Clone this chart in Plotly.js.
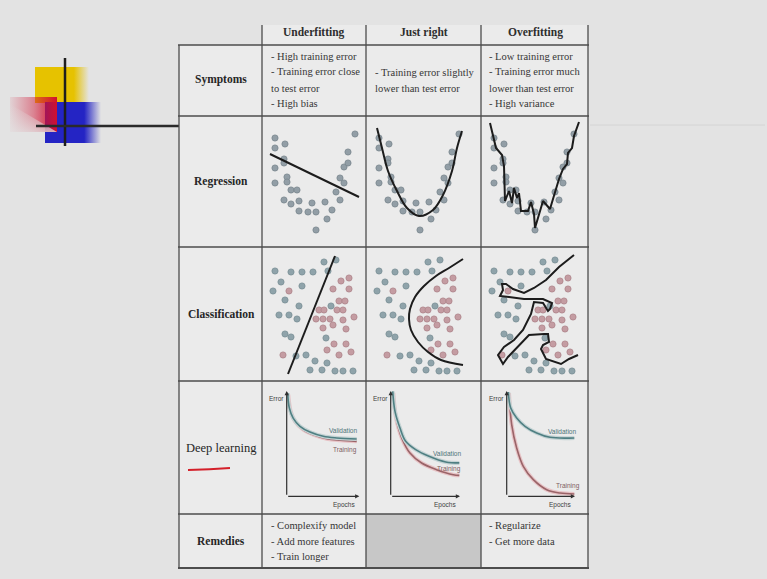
<!DOCTYPE html>
<html><head><meta charset="utf-8">
<script src="https://cdn.plot.ly/plotly-3.0.1.min.js"></script>
<style>html,body{margin:0;padding:0;background:#e3e3e3;overflow:hidden}#chart{width:767px;height:579px}</style>
</head><body><div id="chart"></div>
<script>
// ---------------- DATA ----------------
const colHeaders = ['Underfitting', 'Just right', 'Overfitting'];
const rowHeaders = ['Symptoms', 'Regression', 'Classification', 'Deep learning', 'Remedies'];
const symptomsUnder = ['- High training error', '- Training error close', 'to test error', '- High bias'];
const symptomsRight = ['- Training error slightly', 'lower than test error'];
const symptomsOver = ['- Low training error', '- Training error much', 'lower than test error', '- High variance'];
const remediesUnder = ['- Complexify model', '- Add more features', '- Train longer'];
const remediesOver = ['- Regularize', '- Get more data'];

// regression sample points (same sample in every column)
const regX = [13,13,23,13,22,22,13,25,25,29,35,22,29,37,37,46,50,54,54,63,65,70,78,74,78,82,82,86,86,93];
const regY = [22,32,28,52,43,47,67,61,66,74,74,84,88,85,95,96,87,96,114,86,103,94,84,76,62,67,51,47,36,18];
// regression fits
const regUnderX = [8, 97];
const regUnderY = [38, 81];
const regRightX = [11,16,22,31,41,53,67,77,86,91,96];
const regRightY = [12,32,55,75,92,100,94,79,55,32,15];
const regOverX = [9,15,21,23,24,28,31,33,36,38,40,47,50,53,54,62,69,78,82,86,87,91,93,98];
const regOverY = [7,32,39,50,85,75,87,72,82,77,95,95,86,98,112,85,93,63,53,48,37,32,20,6];

// classification sample points
const blueX = [62,74,13,29,40,51,66,19,11,40,23,37,69,17,27,35,23,29,64,34,44,53,65,48,60,73,81,91];
const blueY = [15,13,24,25,25,25,24,35,44,39,53,59,59,68,68,72,87,90,91,109,108,114,116,123,123,124,124,124];
const redX = [87,79,71,87,27,77,83,57,62,75,81,54,61,68,81,92,71,61,84,72,84,65,89,77,21];
const redY = [31,34,42,42,44,54,54,63,63,63,63,72,72,72,73,70,78,81,82,97,97,103,105,108,108];
// classification boundaries
const clsUnderX = [73, 26];
const clsUnderY = [9, 127];
const clsRightX = [97,83,70,58,49,44,43,45,52,62,75,97];
const clsRightY = [12,21,29,39,50,62,72,83,95,105,113,118];
const clsOverX = [93,78,65,53,43,32,25,21,22,19,28,43,62,71,69,67,62,53,50,42,33,23,17,22,27,37,48,63,67,68,62,60,65,80,88,97];
const clsOverY = [8,20,33,41,46,42,37,37,43,49,50,52,52,56,62,64,56,55,67,83,93,100,108,117,110,100,88,87,87,95,98,102,112,117,112,108];

// deep learning error curves (epochs 0-100, error 0-100)
const dlUnderValX = [1.4,3.6,9.1,18.3,32.1,50.4,68.9,96.4];
const dlUnderValY = [98,84,74,66.5,61,57,55.4,54.4];
const dlUnderTrX = [2.2,5.5,11.4,22.9,36.6,55.1,73.4,96.4];
const dlUnderTrY = [96.5,80.7,71.2,63.2,58.5,54.7,53.2,52.2];
const dlRightValX = [2.9,6.2,13.4,21.6,36.1,55.3,79.4,99];
const dlRightValY = [99.7,80.7,64.9,52.2,44.3,38,32.6,31.7];
const dlRightTrX = [3.8,7.7,15.9,27.8,44.6,66.2,90.3,99];
const dlRightTrY = [98.1,74.4,55.4,41.1,31.6,25.3,20.5,19.9];
const dlOverValX = [2.3,5.9,14.6,26.8,43.9,63.4,99];
const dlOverValY = [99,83.9,74.4,66.5,60.1,56,55.4];
const dlOverTrX = [3.4,7.3,14.6,24.3,39,58.6,78,99];
const dlOverTrY = [98.1,68,45.9,28.5,15.8,6.3,3.1,2.2];

// ---------------- LAYOUT HELPERS ----------------
const W = 767, H = 579;
const PX = x => x / W, PY = y => 1 - y / H;
const SERIF = 'Liberation Serif, Times New Roman, serif';
const SANS = 'Liberation Sans Narrow, Liberation Sans, Arial, sans-serif';
const TXT = '#363636';

const colX = [179, 262, 366, 481, 588];
const rowY = [45, 116, 247, 381, 514, 568];

const traces = [];
const layout = {
  width: W, height: H, margin: {l: 0, r: 0, t: 0, b: 0},
  paper_bgcolor: '#e3e3e3', plot_bgcolor: 'rgba(0,0,0,0)',
  showlegend: false, hovermode: false,
  shapes: [], annotations: []
};

function axKey(i, c) { return c + 'axis' + (i === 1 ? '' : i); }
function axRef(i, c) { return c + (i === 1 ? '' : i); }
function addAxes(i, x0, x1, y0, y1, xr, yr) {
  layout[axKey(i, 'x')] = {domain: [PX(x0), PX(x1)], range: xr, visible: false, fixedrange: true, anchor: axRef(i, 'y')};
  layout[axKey(i, 'y')] = {domain: [PY(y1), PY(y0)], range: yr, visible: false, fixedrange: true, anchor: axRef(i, 'x')};
}
function sc(i, x, y, extra) {
  return Object.assign({type: 'scatter', x: x, y: y, xaxis: axRef(i, 'x'), yaxis: axRef(i, 'y'), hoverinfo: 'skip', showlegend: false}, extra);
}

// background of the table
layout.shapes.push({type: 'rect', xref: 'paper', yref: 'paper', layer: 'below',
  x0: PX(179), x1: PX(588), y0: PY(568), y1: PY(45), fillcolor: '#ebebeb', line: {width: 0}});
layout.shapes.push({type: 'rect', xref: 'paper', yref: 'paper', layer: 'below',
  x0: PX(262), x1: PX(588), y0: PY(45), y1: PY(25), fillcolor: '#ebebeb', line: {width: 0}});
layout.shapes.push({type: 'rect', xref: 'paper', yref: 'paper', layer: 'below',
  x0: PX(366), x1: PX(481), y0: PY(568), y1: PY(514), fillcolor: '#c7c7c7', line: {width: 0}});

// decoration: gradient squares drawn on a full-page overlay axis (pixel units)
addAxes(10, 0, W, 0, H, [0, W], [H, 0]);
function gradPoly(xs, ys, type, scale) {
  traces.push(sc(10, xs, ys, {mode: 'lines', line: {width: 0}, fill: 'toself',
    fillgradient: {type: type, colorscale: scale}}));
}
gradPoly([35, 89, 89, 35, 35], [67, 67, 103, 103, 67], 'horizontal',
  [[0, 'rgba(230,194,0,1)'], [0.72, 'rgba(230,194,0,1)'], [1, 'rgba(230,194,0,0)']]);
gradPoly([45, 101, 101, 45, 45], [102, 102, 143, 143, 102], 'horizontal',
  [[0, 'rgba(36,36,196,1)'], [0.7, 'rgba(36,36,196,1)'], [1, 'rgba(36,36,196,0)']]);
gradPoly([10, 57, 57, 10, 10], [97, 97, 132, 132, 97], 'horizontal',
  [[0, 'rgba(209,16,48,0.08)'], [0.5, 'rgba(209,16,48,0.45)'], [1, 'rgba(209,16,48,1)']]);
gradPoly([10, 57, 10, 10], [104, 132, 132, 104], 'vertical',
  [[0, 'rgba(227,227,227,0.75)'], [1, 'rgba(227,227,227,0)']]);

layout.shapes.push({type: 'line', xref: 'paper', yref: 'paper', x0: PX(65), x1: PX(65), y0: PY(58), y1: PY(146), line: {color: '#1e1e1e', width: 2.5}});
layout.shapes.push({type: 'line', xref: 'paper', yref: 'paper', x0: PX(36), x1: PX(179), y0: PY(126), y1: PY(126), line: {color: '#2a2a2a', width: 2.5}});
layout.shapes.push({type: 'line', xref: 'paper', yref: 'paper', x0: PX(590), x1: PX(765), y0: PY(125), y1: PY(125), line: {color: '#d4d4d4', width: 1}});

// table grid
const LC = '#4d4d4d';
rowY.forEach((y, k) => layout.shapes.push({type: 'line', xref: 'paper', yref: 'paper',
  x0: PX(178), x1: PX(589), y0: PY(y), y1: PY(y), line: {color: LC, width: k === rowY.length - 1 ? 2 : 1.3}}));
colX.forEach((x, k) => layout.shapes.push({type: 'line', xref: 'paper', yref: 'paper',
  x0: PX(x), x1: PX(x), y0: PY(568), y1: PY(k === 0 ? 45 : 25), line: {color: LC, width: 1.3}}));

// text
function ann(text, x, y, o) {
  layout.annotations.push(Object.assign({text: text, x: PX(x), y: PY(y), xref: 'paper', yref: 'paper',
    showarrow: false, xanchor: 'center', yanchor: 'middle',
    font: {family: SERIF, size: 10.5, color: TXT}}, o || {}));
}
const colCenters = [314, 424, 535];
colHeaders.forEach((t, k) => ann('<b>' + t + '</b>', colCenters[k], 33, {font: {family: SERIF, size: 11.5, color: '#2e2e2e'}}));
const rowCenters = [80, 182, 314, 448, 541];
rowHeaders.forEach((t, k) => ann(k === 3 ? t : '<b>' + t + '</b>', 221, rowCenters[k],
  {font: {family: SERIF, size: k === 3 ? 12.5 : 11.5, color: '#262626'}}));
// red hand-drawn underline
layout.shapes.push({type: 'path', xref: 'paper', yref: 'paper',
  path: `M ${PX(188)} ${PY(470)} Q ${PX(210)} ${PY(469.5)} ${PX(230)} ${PY(468)}`, line: {color: '#d4202a', width: 2}});

const list4 = [56.7, 71.7, 88.3, 103.3];
symptomsUnder.forEach((t, k) => ann(t, 268.5, list4[k], {xanchor: 'left'}));
symptomsRight.forEach((t, k) => ann(t, 372.5, [72.3, 88.3][k], {xanchor: 'left'}));
symptomsOver.forEach((t, k) => ann(t, 486.5, list4[k], {xanchor: 'left'}));
const list3 = [525.7, 541, 556.7];
remediesUnder.forEach((t, k) => ann(t, 268.5, list3[k], {xanchor: 'left'}));
remediesOver.forEach((t, k) => ann(t, 486.5, list3[k], {xanchor: 'left'}));

// ---------------- SUBPLOTS ----------------
const DOT = {size: 6.2, color: '#929ea6', line: {color: '#7a868e', width: 0.8}};
const BLUE = {size: 6.2, color: '#8fa3aa', line: {color: '#7a8f96', width: 0.8}};
const RED = {size: 6.2, color: '#c49ca2', line: {color: '#ad848a', width: 0.8}};
const FIT = {color: '#1c1c1c', width: 2};

const boxes = [
  [262, 366, 116, 247], [366, 481, 116, 247], [481, 588, 116, 247],
  [262, 366, 247, 381], [366, 481, 247, 381], [481, 588, 247, 381]
];
boxes.forEach((b, k) => addAxes(k + 1, b[0], b[1], b[2], b[3], [0, b[1] - b[0]], [b[3] - b[2], 0]));

const regFits = [[regUnderX, regUnderY, 'linear'], [regRightX, regRightY, 'spline'], [regOverX, regOverY, 'linear']];
regFits.forEach((f, k) => {
  traces.push(sc(k + 1, regX, regY, {mode: 'markers', marker: DOT}));
  traces.push(sc(k + 1, f[0], f[1], {mode: 'lines', line: Object.assign({shape: f[2]}, FIT)}));
});
const clsFits = [[clsUnderX, clsUnderY, 'linear'], [clsRightX, clsRightY, 'spline'], [clsOverX, clsOverY, 'linear']];
clsFits.forEach((f, k) => {
  traces.push(sc(k + 4, blueX, blueY, {mode: 'markers', marker: BLUE}));
  traces.push(sc(k + 4, redX, redY, {mode: 'markers', marker: RED}));
  traces.push(sc(k + 4, f[0], f[1], {mode: 'lines', line: Object.assign({shape: f[2]}, FIT)}));
});

// deep learning plots
const dlBoxes = [[286.7, 359.3], [390.7, 460], [506.7, 575]];
const dlO = 496.3, dlT = 391;
const dlData = [
  [dlUnderValX, dlUnderValY, dlUnderTrX, dlUnderTrY],
  [dlRightValX, dlRightValY, dlRightTrX, dlRightTrY],
  [dlOverValX, dlOverValY, dlOverTrX, dlOverTrY]
];
const valLbl = [[342.7, 430.3], [446.7, 453.5], [561.7, 431]];
const trLbl = [[345, 450], [449.3, 468.8], [568.3, 485.8]];
dlBoxes.forEach((b, k) => {
  const i = k + 7;
  addAxes(i, b[0], b[1], dlT, dlO, [0, 100], [0, 100]);
  const d = dlData[k];
  traces.push(sc(i, d[2], d[3], {mode: 'lines', line: {color: '#e7c3c6', width: 4, shape: 'spline'}}));
  traces.push(sc(i, d[2], d[3], {mode: 'lines', line: {color: '#9a6468', width: 1.6, shape: 'spline'}}));
  traces.push(sc(i, d[0], d[1], {mode: 'lines', line: {color: '#c4d3d4', width: 4, shape: 'spline'}}));
  traces.push(sc(i, d[0], d[1], {mode: 'lines', line: {color: '#4f7f82', width: 1.6, shape: 'spline'}}));
  const xr = axRef(i, 'x'), yr = axRef(i, 'y');
  layout.annotations.push({x: 100, y: 0, ax: 0, ay: 0, xref: xr, yref: yr, axref: xr, ayref: yr,
    text: '', showarrow: true, arrowhead: 2, arrowsize: 0.7, arrowwidth: 1.2, arrowcolor: '#303030'});
  layout.annotations.push({x: 0, y: 100, ax: 0, ay: 0, xref: xr, yref: yr, axref: xr, ayref: yr,
    text: '', showarrow: true, arrowhead: 2, arrowsize: 0.7, arrowwidth: 1.2, arrowcolor: '#303030'});
  ann('Error', b[0] - 10.5, 398, {font: {family: SANS, size: 6.5, color: '#3f3f3f'}});
  ann('Epochs', b[1] - 15, 504.7, {font: {family: SANS, size: 6.5, color: '#3f3f3f'}});
  ann('Validation', valLbl[k][0], valLbl[k][1], {font: {family: SANS, size: 6.5, color: '#4f7478'}});
  ann('Training', trLbl[k][0], trLbl[k][1], {font: {family: SANS, size: 6.5, color: '#7e5e62'}});
});

Plotly.newPlot('chart', traces, layout, {staticPlot: true, displayModeBar: false});
</script>
</body></html>
